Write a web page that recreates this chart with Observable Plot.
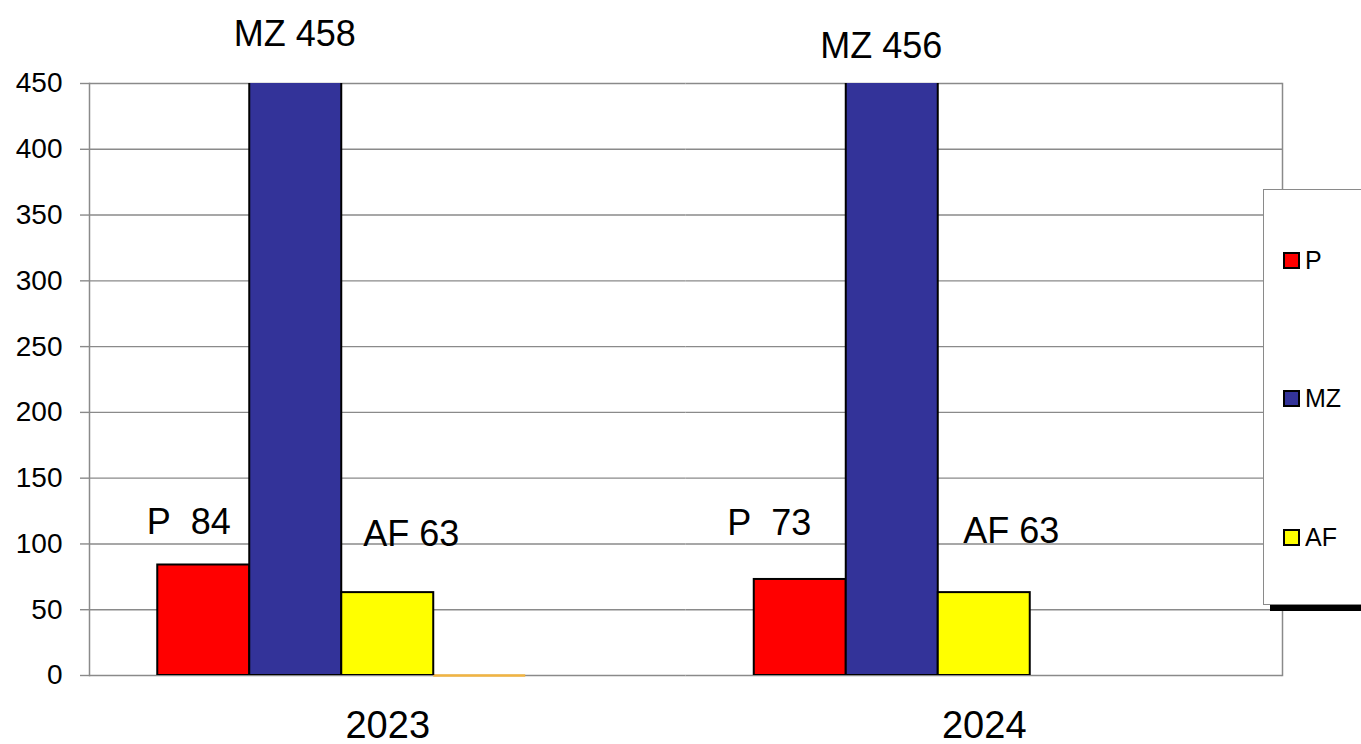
<!DOCTYPE html>
<html>
<head>
<meta charset="utf-8">
<script src="https://cdn.jsdelivr.net/npm/d3@7"></script>
<script src="https://cdn.jsdelivr.net/npm/@observablehq/plot@0.6"></script>
<style>
  html, body { margin: 0; padding: 0; background: #fff; overflow: hidden; }
  #wrap { position: relative; width: 1361px; height: 744px; font-family: "Liberation Sans", Arial, sans-serif; }
  #legend { position: absolute; left: 1263px; top: 189px; width: 120px; height: 414px; background: #fff;
            border: 1.5px solid #8a8a8a; box-shadow: 7px 6px 0 #000; }
  .item { position: absolute; left: 19px; display: flex; align-items: center; font-size: 25px; color: #000; }
  .sw { width: 13px; height: 13px; border: 2px solid #000; margin-right: 5px; }
</style>
</head>
<body>
<div id="wrap"></div>
<script>
const years = ["2023", "2024"];
const series = ["P", "MZ", "AF", "S4", "S5"];
const legendSeries = ["P", "MZ", "AF"];
const valuesP = [84, 73];
const valuesMZ = [458, 456];
const valuesAF = [63, 63];
const valuesS4 = [0, null];
const valuesS5 = [null, null];
const yTicks = [0, 50, 100, 150, 200, 250, 300, 350, 400, 450];
const colors = ["#FF0000", "#333399", "#FFFF00", "#F2B441", "#999999"];

const bySeries = { P: valuesP, MZ: valuesMZ, AF: valuesAF, S4: valuesS4, S5: valuesS5 };
const data = years.flatMap((year, i) =>
  series.map(s => ({ year, series: s, value: bySeries[s][i] }))
).filter(d => d.value != null);

const bars = data.filter(d => ["P", "MZ", "AF"].includes(d.series));
const zeroLine = data.filter(d => d.series === "S4");

// label placement offsets (px) relative to bar top/center
const labelOffsets = {
  "2023|P": [-15, -43], "2023|MZ": [-1, -39], "2023|AF": [23.5, -58.6],
  "2024|P": [-31, -55.5], "2024|MZ": [-11, -29.5], "2024|AF": [27, -61.6]
};
const labelText = d => d.series === "P" ? `P\u00a0 ${d.value}` : `${d.series} ${d.value}`;

const labelMarks = bars.map(d => {
  const [dx, dy] = labelOffsets[d.year + "|" + d.series];
  return Plot.text([d], {
    fx: "year", x: "series", y: "value", text: labelText,
    dx, dy, fontSize: 36, fill: "#000", clip: false
  });
});

const chart = Plot.plot({
  width: 1361, height: 744,
  marginLeft: 89, marginRight: 79, marginTop: 83, marginBottom: 69,
  style: { fontFamily: "'Liberation Sans', Arial, sans-serif", color: "#000", background: "#fff", overflow: "visible" },
  fx: { domain: years, padding: 0, label: null, round: false },
  x: { domain: series, paddingInner: 0, paddingOuter: 0.742, axis: null, round: false },
  y: { domain: [0, 450], axis: null },
  color: { domain: series, range: colors },
  marks: [
    Plot.gridY(yTicks, { stroke: "#8a8a8a", strokeOpacity: 1, strokeWidth: 1.4 }),
    Plot.frame({ anchor: "left", facetAnchor: "left", stroke: "#8a8a8a", strokeWidth: 1.5 }),
    Plot.frame({ anchor: "right", facetAnchor: "right", stroke: "#8a8a8a", strokeWidth: 1.5 }),
    Plot.tickY(zeroLine, { fx: "year", x: "series", y: "value", stroke: "#F2B441", strokeWidth: 2.5 }),
    Plot.barY(bars, { fx: "year", x: "series", y: "value", fill: "series", stroke: "#000", strokeWidth: 2, clip: true }),
    Plot.axisY(yTicks, { tickSize: 9, tickPadding: 18, fontSize: 28, stroke: "#8a8a8a", fill: "#000", strokeWidth: 1.4, label: null }),
    Plot.axisFx({ anchor: "bottom", tickSize: 0, tickPadding: 36, fontSize: 38, label: null, fill: "#000" }),
    ...labelMarks
  ]
});

const wrap = document.getElementById("wrap");
wrap.appendChild(chart);

// legend (HTML overlay)
const color = chart.scale("color");
const legend = document.createElement("div");
legend.id = "legend";
const tops = [70, 208, 347];
legendSeries.forEach((s, i) => {
  const item = document.createElement("div");
  item.className = "item";
  item.style.top = (tops[i] - 15) + "px";
  item.style.height = "30px";
  const sw = document.createElement("div");
  sw.className = "sw";
  sw.style.background = color.apply(s);
  const t = document.createElement("span");
  t.textContent = s;
  item.appendChild(sw);
  item.appendChild(t);
  legend.appendChild(item);
});
wrap.appendChild(legend);
</script>
</body>
</html>
